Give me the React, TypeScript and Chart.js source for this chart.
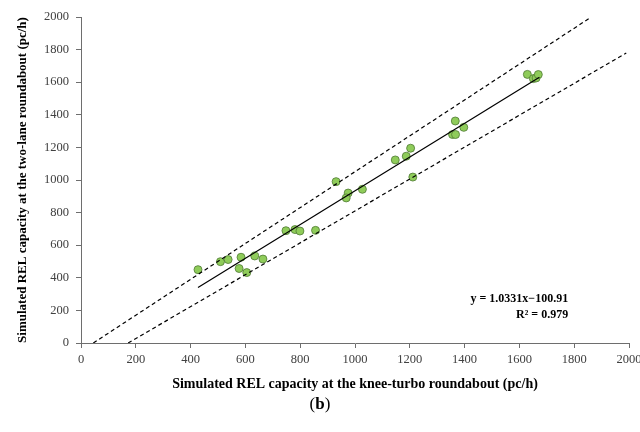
import React, { useEffect, useRef } from "react";
import { Chart, registerables } from "chart.js";

Chart.register(...registerables);

const knee = [427, 509, 537, 584, 577, 605, 634, 664, 748, 781, 799, 856, 931, 975, 968, 1027, 1147, 1187, 1203, 1211, 1356, 1367, 1366, 1397, 1629, 1651, 1661, 1669];
const twoLane = [450, 499, 512, 526, 457, 432, 534, 515, 689, 696, 687, 691, 990, 920, 890, 943, 1123, 1146, 1195, 1018, 1279, 1279, 1362, 1323, 1648, 1622, 1626, 1647];

const trendX = [427, 1673];
const trendY = [340, 1630];
const upperX = [45, 1859];
const upperY = [0, 1996];
const lowerX = [172, 1990];
const lowerY = [0, 1779];

const axisMin = 0;
const axisMax = 2000;
const axisStep = 200;

const equationText = "y = 1.0331x\u2212100.91";
const r2Text = "R\u00b2 = 0.979";
const xTitle = "Simulated REL capacity at the knee-turbo roundabout (pc/h)";
const yTitle = "Simulated REL capacity at the two-lane roundabout (pc/h)";

const FONT = "'Liberation Serif', 'DejaVu Serif', serif";

const toPts = (xs: number[], ys: number[]) => xs.map((x, i) => ({ x, y: ys[i] }));

const equationPlugin = {
  id: "equation",
  afterDatasetsDraw(chart: any) {
    const { ctx, scales } = chart;
    const xs = scales.x;
    const ys = scales.y;
    ctx.save();
    ctx.fillStyle = "#000";
    ctx.font = `bold 12px ${FONT}`;
    ctx.textAlign = "right";
    ctx.textBaseline = "middle";
    const xr = xs.getPixelForValue(1778);
    ctx.fillText(equationText, xr, ys.getPixelForValue(273));
    ctx.fillText(r2Text, xr, ys.getPixelForValue(170));
    ctx.restore();
  },
};

export default function App() {
  const ref = useRef<HTMLCanvasElement | null>(null);
  useEffect(() => {
    if (!ref.current) return;
    const axisCommon = {
      type: "linear" as const,
      min: axisMin,
      max: axisMax,
      grid: {
        display: true,
        drawOnChartArea: false,
        drawTicks: true,
        tickLength: 5,
        color: "#6e6e6e",
      },
      border: { display: true, color: "#6e6e6e", width: 1 },
    };
    const chart = new Chart(ref.current, {
      type: "scatter",
      data: {
        datasets: [
          {
            type: "line",
            data: toPts(upperX, upperY),
            borderColor: "#000",
            borderWidth: 1.2,
            borderDash: [4, 3],
            pointRadius: 0,
            fill: false,
          },
          {
            type: "line",
            data: toPts(lowerX, lowerY),
            borderColor: "#000",
            borderWidth: 1.2,
            borderDash: [4, 3],
            pointRadius: 0,
            fill: false,
          },
          {
            type: "line",
            data: toPts(trendX, trendY),
            borderColor: "#000",
            borderWidth: 1.2,
            pointRadius: 0,
            fill: false,
          },
          {
            type: "scatter",
            data: toPts(knee, twoLane),
            backgroundColor: "#8fcc5a",
            borderColor: "#4f7a33",
            borderWidth: 0.8,
            pointRadius: 4,
          },
        ] as any,
      },
      options: {
        animation: false,
        responsive: false,
        maintainAspectRatio: false,
        layout: { padding: { top: 17, right: 11, left: 15, bottom: 39 } },
        plugins: {
          legend: { display: false },
          tooltip: { enabled: false },
        },
        scales: {
          x: {
            ...axisCommon,
            ticks: {
              stepSize: axisStep,
              color: "#404040",
              font: { family: FONT, size: 12.5 },
              padding: 4,
              maxRotation: 0,
              callback: (v: any) => String(v),
            },
            title: {
              display: true,
              text: xTitle,
              color: "#000",
              font: { family: FONT, size: 14, weight: "bold" },
              padding: { top: 8, bottom: 0 },
            },
            afterFit: (s: any) => {
              s.height = 50;
              s.paddingLeft = 0;
              s.paddingRight = 0;
            },
          },
          y: {
            ...axisCommon,
            ticks: {
              stepSize: axisStep,
              color: "#404040",
              font: { family: FONT, size: 12.5 },
              padding: 7,
              callback: (v: any) => String(v),
            },
            title: {
              display: true,
              text: yTitle,
              color: "#000",
              font: { family: FONT, size: 13, weight: "bold" },
              padding: { top: 0, bottom: 4 },
            },
            afterFit: (s: any) => {
              s.width = 66;
              s.paddingTop = 0;
              s.paddingBottom = 0;
            },
          },
        },
      } as any,
      plugins: [equationPlugin],
    });
    return () => chart.destroy();
  }, []);
  return (
    <div style={{ position: "absolute", left: 0, top: 0, width: 640, height: 432, background: "#fff" }}>
      <canvas ref={ref} width={640} height={432} style={{ width: 640, height: 432, display: "block" }} />
      <div
        style={{
          position: "absolute",
          left: 0,
          width: 640,
          top: 394,
          textAlign: "center",
          fontFamily: FONT,
          fontSize: 17,
          color: "#000",
        }}
      >
        (<b>b</b>)
      </div>
    </div>
  );
}
